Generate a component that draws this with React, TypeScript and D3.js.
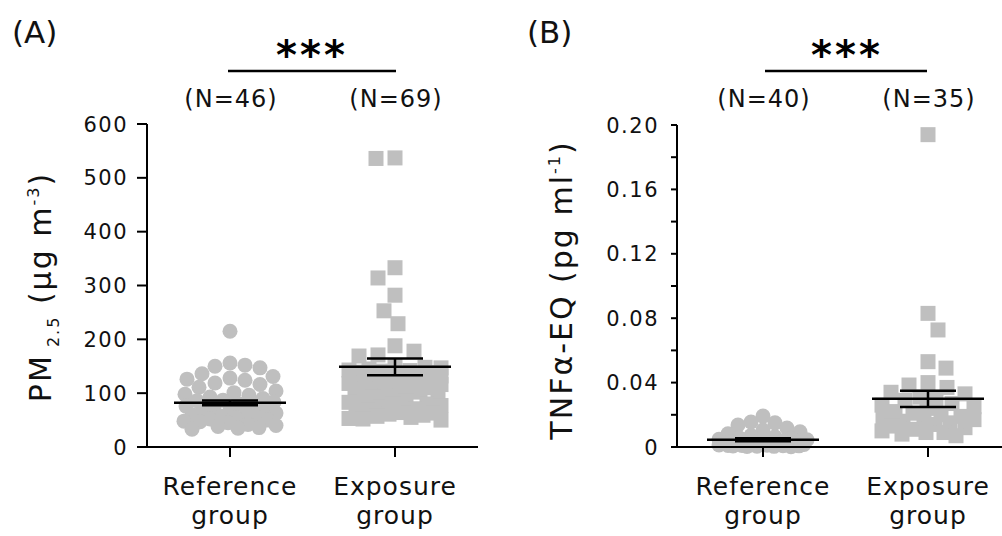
import React from 'react';
import * as d3 from 'd3';

// ---------- data ----------
const categories = ['Reference', 'Exposure'];

const pmReference = [215, 156, 152, 150, 147, 136, 131, 128, 126, 124, 119, 116, 111, 104, 101, 98, 96, 93, 90, 87, 86, 83, 80, 78, 76, 73, 70, 68, 66, 63, 61, 60, 57, 56, 54, 52, 50, 48, 47, 45, 42, 40, 38, 36, 35, 33];
const pmExposure = [537, 536, 333, 314, 282, 253, 229, 188, 178, 171, 169,
  151, 148, 147, 145, 143, 142, 141, 139, 138, 137, 136, 134, 133, 132, 131, 130, 129, 128, 126, 125,
  124, 123, 122, 121, 119, 118, 116, 115, 113, 112, 110, 108, 106, 104, 102, 100, 97, 95, 92, 89,
  86, 83, 80, 77, 74, 71, 68, 66, 63, 61, 59, 57, 55, 53, 52, 50, 64, 79];
const pmMeans = [82, 149];
const pmSem = [4.6, 15.5];
const pmN = [46, 69];
const pmTicks = [0, 100, 200, 300, 400, 500, 600];

const tnfReference = [0.0192, 0.0155, 0.015, 0.0137, 0.0118, 0.0105, 0.0095, 0.0082, 0.0071, 0.0064,
  0.0058, 0.0052, 0.0048, 0.0045, 0.0042, 0.0038, 0.0035, 0.0032, 0.003, 0.0028,
  0.0026, 0.0024, 0.0022, 0.002, 0.0019, 0.0017, 0.0016, 0.0015, 0.0013, 0.0012,
  0.0011, 0.001, 0.0009, 0.0008, 0.0007, 0.0006, 0.0005, 0.0004, 0.0003, 0.0002];
const tnfExposure = [0.194, 0.083, 0.0727, 0.053, 0.049, 0.040, 0.0385, 0.037,
  0.034, 0.033, 0.031, 0.030, 0.029, 0.027, 0.026, 0.025, 0.024, 0.022, 0.021, 0.020,
  0.019, 0.018, 0.017, 0.016, 0.016, 0.015, 0.014, 0.013, 0.012, 0.011, 0.010, 0.009, 0.009, 0.008, 0.007];
const tnfMeans = [0.0045, 0.0299];
const tnfSem = [0.0009, 0.005];
const tnfN = [40, 35];
const tnfTicks = [0, 0.04, 0.08, 0.12, 0.16, 0.2];
const tnfMinorTicks = [0.02, 0.06, 0.1, 0.14, 0.18];

// ---------- helpers ----------
const GREY = '#bfbfbf';
const FONT = 'DejaVu Sans, sans-serif';

type Pt = { v: number; x: number; y: number };

function swarm(vals: number[], y: (v: number) => number, cx: number, minDist: number, maxOff: number): Pt[] {
  const pts: Pt[] = vals.map(v => ({ v, y: y(v), x: cx }));
  const order = [...pts].sort((a, b) => b.v - a.v);
  const placed: Pt[] = [];
  order.forEach((p, i) => {
    const cands: number[] = [0];
    for (let d = 1; d <= maxOff; d += 1) {
      if (i % 2) cands.push(-d, d); else cands.push(d, -d);
    }
    let best: number | null = null;
    for (const o of cands) {
      const x = cx + o;
      if (placed.every(q => Math.hypot(q.x - x, q.y - p.y) >= minDist)) { best = o; break; }
    }
    if (best === null) {
      let bestScore = -1;
      for (const o of cands) {
        const x = cx + o;
        const m = Math.min(...placed.map(q => Math.hypot(q.x - x, q.y - p.y)));
        if (m > bestScore) { bestScore = m; best = o; }
      }
    }
    p.x = cx + (best as number);
    placed.push(p);
  });
  return pts;
}

function MeanSem({ cx, y, mean, sem }: { cx: number; y: (v: number) => number; mean: number; sem: number }) {
  const ym = y(mean), yl = y(mean - sem), yh = y(mean + sem);
  return (
    <g stroke="#000" strokeWidth={2.5}>
      <line x1={cx - 56} x2={cx + 56} y1={ym} y2={ym} />
      <line x1={cx} x2={cx} y1={yl} y2={yh} />
      <line x1={cx - 28} x2={cx + 28} y1={yl} y2={yl} />
      <line x1={cx - 28} x2={cx + 28} y1={yh} y2={yh} />
    </g>
  );
}

function CatLabels({ x }: { x: d3.ScalePoint<string> }) {
  return (
    <g fontFamily={FONT} fontSize={25} letterSpacing={1} textAnchor="middle" fill="#111">
      {categories.map(c => (
        <g key={c}>
          <line x1={x(c)} x2={x(c)} y1={447} y2={457} stroke="#000" strokeWidth={2} />
          <text x={x(c)} y={495}>{c}</text>
          <text x={x(c)} y={524}>group</text>
        </g>
      ))}
    </g>
  );
}

export default function App() {
  // Panel A
  const yA = d3.scaleLinear().domain([0, 600]).range([447, 124]);
  const xA = d3.scalePoint<string>().domain(categories).range([230, 395]);
  const aRef = swarm(pmReference, yA, xA('Reference')!, 15, 46);
  const aExp = swarm(pmExposure, yA, xA('Exposure')!, 19, 46);

  // Panel B
  const yB = d3.scaleLinear().domain([0, 0.2]).range([447, 125]);
  const xB = d3.scalePoint<string>().domain(categories).range([763, 928]);
  const bRef = swarm(tnfReference, yB, xB('Reference')!, 13, 44);
  const bExp = swarm(tnfExposure, yB, xB('Exposure')!, 19, 46);

  const fmtB = (v: number) => (v === 0 ? '0' : d3.format('.2f')(v));

  return (
    <svg width={1002} height={536} style={{ position: 'absolute', left: 0, top: 0, background: '#fff' }}>
      {/* ===== Panel A ===== */}
      <text x={12} y={43} fontFamily={FONT} fontSize={31} fill="#111">(A)</text>
      <text x={312} y={69} fontFamily={FONT} fontSize={40} fontWeight="bold" letterSpacing={3} textAnchor="middle">***</text>
      <line x1={228} x2={396} y1={71} y2={71} stroke="#000" strokeWidth={2.5} />
      {categories.map((c, i) => (
        <text key={c} x={xA(c)! + 1} y={107} fontFamily={FONT} fontSize={24} letterSpacing={1} textAnchor="middle" fill="#111">(N={pmN[i]})</text>
      ))}

      {/* points */}
      {aRef.map((p, i) => <circle key={'ar' + i} cx={p.x} cy={p.y} r={7.5} fill={GREY} />)}
      {aExp.map((p, i) => <rect key={'ae' + i} x={p.x - 7.5} y={p.y - 7.5} width={15} height={15} fill={GREY} />)}
      <MeanSem cx={xA('Reference')!} y={yA} mean={pmMeans[0]} sem={pmSem[0]} />
      <MeanSem cx={xA('Exposure')!} y={yA} mean={pmMeans[1]} sem={pmSem[1]} />

      {/* y axis A */}
      <line x1={147} x2={147} y1={yA(0) + 1} y2={yA(600)} stroke="#000" strokeWidth={2} />
      {pmTicks.map(t => (
        <g key={t}>
          <line x1={137} x2={147} y1={yA(t)} y2={yA(t)} stroke="#000" strokeWidth={2} />
          <text x={128} y={yA(t)} dy="0.36em" textAnchor="end" fontFamily={FONT} fontSize={21} letterSpacing={1.5} fill="#111">{t}</text>
        </g>
      ))}
      {/* x axis A */}
      <line x1={146} x2={478} y1={447} y2={447} stroke="#000" strokeWidth={2} />
      <CatLabels x={xA} />
      <text transform="translate(51,287) rotate(-90)" textAnchor="middle" fontFamily={FONT} fontSize={30} letterSpacing={2} fill="#111">
        PM<tspan fontSize={16} dy={8}> 2.5</tspan><tspan dy={-8}> (μg m</tspan><tspan fontSize={16} dy={-12}>-3</tspan><tspan dy={12}>)</tspan>
      </text>

      {/* ===== Panel B ===== */}
      <text x={527} y={43} fontFamily={FONT} fontSize={31} fill="#111">(B)</text>
      <text x={847} y={69} fontFamily={FONT} fontSize={40} fontWeight="bold" letterSpacing={3} textAnchor="middle">***</text>
      <line x1={765} x2={927} y1={71} y2={71} stroke="#000" strokeWidth={2.5} />
      {categories.map((c, i) => (
        <text key={c} x={xB(c)! + 1} y={107} fontFamily={FONT} fontSize={24} letterSpacing={1} textAnchor="middle" fill="#111">(N={tnfN[i]})</text>
      ))}

      {bRef.map((p, i) => <circle key={'br' + i} cx={p.x} cy={p.y} r={7.5} fill={GREY} />)}
      {bExp.map((p, i) => <rect key={'be' + i} x={p.x - 7.5} y={p.y - 7.5} width={15} height={15} fill={GREY} />)}
      <MeanSem cx={xB('Reference')!} y={yB} mean={tnfMeans[0]} sem={tnfSem[0]} />
      <MeanSem cx={xB('Exposure')!} y={yB} mean={tnfMeans[1]} sem={tnfSem[1]} />

      <line x1={677} x2={677} y1={yB(0) + 1} y2={yB(0.2)} stroke="#000" strokeWidth={2} />
      {tnfTicks.map(t => (
        <g key={t}>
          <line x1={671} x2={677} y1={yB(t)} y2={yB(t)} stroke="#000" strokeWidth={2} />
          <text x={659} y={yB(t)} dy="0.36em" textAnchor="end" fontFamily={FONT} fontSize={21} letterSpacing={1.5} fill="#111">{fmtB(t)}</text>
        </g>
      ))}
      {tnfMinorTicks.map(t => (
        <line key={t} x1={671} x2={677} y1={yB(t)} y2={yB(t)} stroke="#000" strokeWidth={2} />
      ))}
      <line x1={676} x2={1002} y1={447} y2={447} stroke="#000" strokeWidth={2} />
      <CatLabels x={xB} />
      <text transform="translate(572,290) rotate(-90)" textAnchor="middle" fontFamily={FONT} fontSize={30} letterSpacing={2} fill="#111">
        TNFα-EQ (pg ml<tspan fontSize={16} dy={-12}>-1</tspan><tspan dy={12}>)</tspan>
      </text>
    </svg>
  );
}
